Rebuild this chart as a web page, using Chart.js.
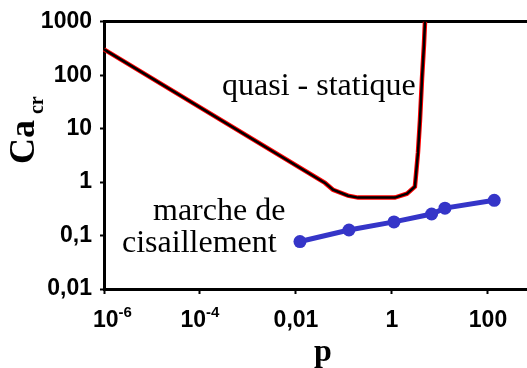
<!DOCTYPE html>
<html>
<head>
<meta charset="utf-8">
<script src="https://cdn.jsdelivr.net/npm/chart.js@4"></script>
<style>
  html, body { margin: 0; padding: 0; background: #fff; }
  canvas { display: block; }
</style>
</head>
<body>
<canvas id="caChart" width="527" height="368"></canvas>
<script>
// quasi-statique curve (p, Ca_cr)
const quasiP  = [1e-6, 0.0402, 0.059, 0.121, 0.196, 1.15, 2.05, 3.0, 3.16, 3.48, 3.83, 4.22, 4.64, 4.87];
const quasiCa = [305, 0.966, 0.72, 0.557, 0.513, 0.513, 0.607, 0.82, 1.36, 3.6, 14.5, 86, 378, 1000];

// marche de cisaillement points
const shearP  = [0.0121, 0.127, 1.10, 6.7, 12.7, 135];
const shearCa = [0.0773, 0.127, 0.18, 0.253, 0.326, 0.457];

// ticks
const xTickValues = [1e-6, 1e-4, 0.01, 1, 100];
const xTickBase   = ['10', '10', '0,01', '1', '100'];
const xTickExp    = ['-6', '-4', '', '', ''];
const yTickValues = [0.01, 0.1, 1, 10, 100, 1000];
const yTickLabels = ['0,01', '0,1', '1', '10', '100', '1000'];

function toPoints(xs, ys) {
  return xs.map((x, i) => ({ x: x, y: ys[i] }));
}

const sansBold = 'bold 23px "Liberation Sans", Arial, sans-serif';
const supBold = 'bold 15px "Liberation Sans", Arial, sans-serif';
const serif = '"Liberation Serif", "Times New Roman", serif';

// draws the x tick labels (with superscripts), axis titles and the two notes
const textPlugin = {
  id: 'texts',
  afterDraw(chart) {
    const ctx = chart.ctx;
    const xs = chart.scales.x;
    ctx.save();
    ctx.fillStyle = '#000';
    ctx.textBaseline = 'alphabetic';
    ctx.textAlign = 'left';

    xTickValues.forEach((v, i) => {
      const px = xs.getPixelForValue(v);
      ctx.font = sansBold;
      const wb = ctx.measureText(xTickBase[i]).width;
      ctx.font = supBold;
      const we = xTickExp[i] ? ctx.measureText(xTickExp[i]).width : 0;
      let start = px - (wb + we) / 2;
      if (i === 0) start = Math.max(start, px - 11); // first label kept inside
      ctx.font = sansBold;
      ctx.fillText(xTickBase[i], start, 327);
      if (xTickExp[i]) {
        ctx.font = supBold;
        ctx.fillText(xTickExp[i], start + wb, 317);
      }
    });

    // x title
    ctx.font = 'bold 32px ' + serif;
    ctx.textAlign = 'center';
    ctx.fillText('p', 323, 361);

    // y title, rotated
    ctx.save();
    ctx.translate(34, 164);
    ctx.rotate(-Math.PI / 2);
    ctx.textAlign = 'left';
    ctx.font = 'bold 36px ' + serif;
    ctx.fillText('Ca', 0, 0);
    const wCa = ctx.measureText('Ca').width;
    ctx.font = 'bold 20px ' + serif;
    ctx.fillText('cr', wCa + 6, 9);
    ctx.restore();

    // notes
    ctx.textAlign = 'left';
    ctx.font = '32px ' + serif;
    ctx.fillText('quasi - statique', 222, 95);
    ctx.fillText('marche de', 153, 220);
    ctx.fillText('cisaillement', 122, 252);
    ctx.restore();
  }
};

new Chart(document.getElementById('caChart'), {
  type: 'scatter',
  data: {
    datasets: [
      {
        data: toPoints(quasiP, quasiCa),
        showLine: true,
        borderColor: '#000000',
        borderWidth: 2.5,
        pointRadius: 0,
        tension: 0,
        order: 1
      },
      {
        data: toPoints(quasiP, quasiCa),
        showLine: true,
        borderColor: '#ff0000',
        borderWidth: 4.5,
        pointRadius: 0,
        tension: 0,
        order: 2
      },
      {
        data: toPoints(shearP, shearCa),
        showLine: true,
        borderColor: '#3535c8',
        backgroundColor: '#3535c8',
        borderWidth: 5,
        pointRadius: 6.5,
        pointBackgroundColor: '#3535c8',
        pointBorderWidth: 0,
        order: 0
      }
    ]
  },
  options: {
    responsive: false,
    animation: false,
    devicePixelRatio: 1,
    clip: false,
    layout: { autoPadding: false, padding: { top: 17, left: 0, right: 0, bottom: 0 } },
    plugins: {
      legend: { display: false },
      tooltip: { enabled: false }
    },
    scales: {
      x: {
        type: 'logarithmic',
        min: 1e-6,
        max: 650,
        afterBuildTicks: s => { s.ticks = xTickValues.map(v => ({ value: v })); },
        afterFit: s => { s.height = 79; },
        ticks: { display: false },
        grid: {
          drawOnChartArea: false,
          drawTicks: true,
          tickLength: 5,
          tickColor: '#000',
          tickWidth: 2
        },
        border: { display: true, color: '#000', width: 3 }
      },
      y: {
        type: 'logarithmic',
        min: 0.01,
        max: 1000,
        afterBuildTicks: s => { s.ticks = yTickValues.map(v => ({ value: v })); },
        afterFit: s => { s.width = 104; },
        ticks: {
          color: '#000',
          font: { family: '"Liberation Sans", Arial, sans-serif', size: 23, weight: 'bold' },
          padding: 8,
          callback: v => {
            const i = yTickValues.findIndex(t => Math.abs(Math.log10(t) - Math.log10(v)) < 1e-6);
            return i >= 0 ? yTickLabels[i] : '';
          }
        },
        grid: {
          color: c => (c.tick && c.tick.value === 1000 ? '#000' : 'rgba(0,0,0,0)'),
          lineWidth: 3,
          tickLength: 4,
          tickColor: '#000',
          tickWidth: 2
        },
        border: { display: true, color: '#000', width: 3 }
      }
    }
  },
  plugins: [textPlugin]
});
</script>
</body>
</html>
